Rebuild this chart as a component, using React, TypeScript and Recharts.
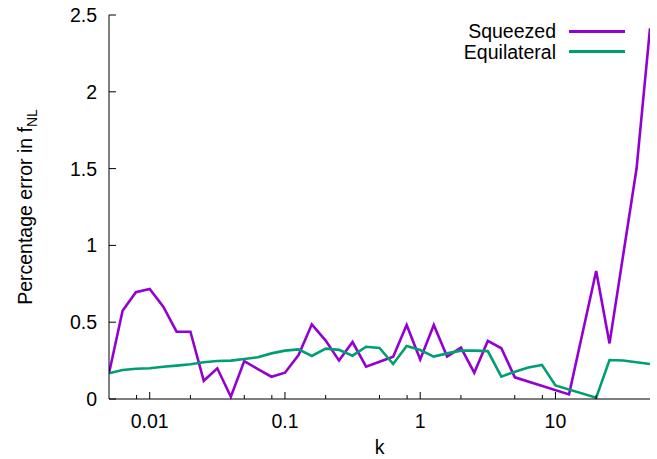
import { LineChart, Line, XAxis, YAxis, Legend } from "recharts";

// k values and percentage errors
const kSqueezed = [
  0.005, 0.0063, 0.0079, 0.01, 0.0126, 0.0158, 0.02, 0.0251, 0.0316, 0.0398,
  0.05, 0.0631, 0.0794, 0.1, 0.126, 0.158, 0.2, 0.251, 0.316, 0.398, 0.5,
  0.631, 0.794, 1, 1.26, 1.58, 2, 2.51, 3.16, 3.98, 5.01, 12.6, 20, 25.1,
  39.8, 50,
];
const squeezedError = [
  0.167, 0.575, 0.695, 0.716, 0.601, 0.438, 0.438, 0.119, 0.2, 0.015, 0.247,
  0.195, 0.145, 0.171, 0.286, 0.486, 0.38, 0.25, 0.371, 0.21, 0.243, 0.275,
  0.482, 0.258, 0.482, 0.276, 0.334, 0.171, 0.378, 0.33, 0.141, 0.03, 0.833,
  0.362, 1.502, 2.413,
];

const kEquilateral = [
  0.005, 0.0063, 0.0079, 0.01, 0.0126, 0.0158, 0.02, 0.0251, 0.0316, 0.0398,
  0.05, 0.0631, 0.0794, 0.1, 0.126, 0.158, 0.2, 0.251, 0.316, 0.398, 0.5,
  0.631, 0.794, 1, 1.26, 1.58, 2, 2.51, 3.16, 3.98, 5.01, 6.31, 7.94, 10, 20,
  25.1, 31.6, 50,
];
const equilateralError = [
  0.167, 0.189, 0.197, 0.2, 0.21, 0.217, 0.226, 0.239, 0.247, 0.25, 0.26,
  0.272, 0.297, 0.315, 0.323, 0.28, 0.328, 0.32, 0.282, 0.34, 0.332, 0.228,
  0.345, 0.319, 0.276, 0.297, 0.315, 0.315, 0.312, 0.145, 0.178, 0.205, 0.222,
  0.088, 0.008, 0.254, 0.251, 0.228,
];

const seriesNames = ["Squeezed", "Equilateral"];
const xMajorTicks = [0.01, 0.1, 1, 10];
const xMinorTicks = [0.008, 0.02, 0.05, 0.08, 0.2, 0.5, 0.8, 2, 5, 8, 20];
const yTicks = [0, 0.5, 1, 1.5, 2, 2.5];

const squeezedData = kSqueezed.map((k, i) => ({ k, err: squeezedError[i] }));
const equilateralData = kEquilateral.map((k, i) => ({ k, err: equilateralError[i] }));
const xTicks = [...xMajorTicks, ...xMinorTicks].sort((a, b) => a - b);

const FONT = '"Liberation Sans", Arial, Helvetica, sans-serif';
const FS = 19.5;
const PURPLE = "#9400D3";
const GREEN = "#009E73";

function BottomTick({ x, y, payload }: any) {
  const major = xMajorTicks.includes(payload.value);
  return (
    <g>
      <line x1={x} x2={x} y1={y} y2={y - (major ? 7 : 4)} stroke="#000" />
      {major && (
        <text x={x} y={y + 29} textAnchor="middle" fontFamily={FONT} fontSize={FS} fill="#000">
          {String(payload.value)}
        </text>
      )}
    </g>
  );
}

function TopTick({ x, y, payload }: any) {
  const major = xMajorTicks.includes(payload.value);
  return <line x1={x} x2={x} y1={y} y2={y + (major ? 7 : 4)} stroke="#000" />;
}

function LeftTick({ x, y, payload }: any) {
  return (
    <g>
      <line x1={x} x2={x + 7} y1={y} y2={y} stroke="#000" />
      <text x={x - 12} y={y + 7} textAnchor="end" fontFamily={FONT} fontSize={FS} fill="#000">
        {String(payload.value)}
      </text>
    </g>
  );
}

function RightTick({ x, y }: any) {
  return <line x1={x} x2={x - 7} y1={y} y2={y} stroke="#000" />;
}

function YTitle(props: any) {
  const vb = props.viewBox || { x: 0, y: 15, width: 109, height: 384 };
  const cx = vb.x + 32;
  const cy = vb.y + vb.height / 2;
  return (
    <text
      x={cx}
      y={cy}
      transform={`rotate(-90, ${cx}, ${cy})`}
      textAnchor="middle"
      fontFamily={FONT}
      fontSize={FS}
      fill="#000"
    >
      Percentage error in f
      <tspan dy={5} fontSize={14}>NL</tspan>
    </text>
  );
}

function XTitle(props: any) {
  const vb = props.viewBox || { x: 109, y: 399, width: 541, height: 60 };
  return (
    <text
      x={vb.x + vb.width / 2}
      y={vb.y + 55}
      textAnchor="middle"
      fontFamily={FONT}
      fontSize={FS}
      fill="#000"
    >
      k
    </text>
  );
}

function KeyBox({ payload }: any) {
  const items = [...(payload || [])].sort(
    (a: any, b: any) => seriesNames.indexOf(a.value) - seriesNames.indexOf(b.value)
  );
  return (
    <div style={{ fontFamily: FONT, fontSize: FS, color: "#000" }}>
      {items.map((item: any) => (
        <div
          key={item.value}
          style={{ display: "flex", alignItems: "center", justifyContent: "flex-end", height: 20.5 }}
        >
          <span style={{ lineHeight: "20.5px", whiteSpace: "nowrap" }}>{item.value}</span>
          <span
            style={{
              display: "inline-block",
              width: 56,
              height: 2.6,
              background: item.color,
              marginLeft: 13,
              marginRight: 5,
            }}
          />
        </div>
      ))}
    </div>
  );
}

export default function App() {
  return (
    <div style={{ position: "absolute", left: 0, top: 0, background: "#fff" }}>
      <LineChart width={657} height={459} margin={{ top: 15, right: 7, bottom: 0, left: 0 }}>
        <XAxis
          xAxisId="bottom"
          dataKey="k"
          type="number"
          scale="log"
          domain={[0.005, 50]}
          allowDataOverflow
          ticks={xTicks}
          interval={0}
          height={60}
          tickSize={0}
          tickMargin={0}
          tickLine={false}
          axisLine={{ stroke: "#000" }}
          tick={<BottomTick />}
          label={<XTitle />}
        />
        <XAxis
          xAxisId="top"
          orientation="top"
          dataKey="k"
          type="number"
          scale="log"
          domain={[0.005, 50]}
          allowDataOverflow
          ticks={xTicks}
          interval={0}
          height={0}
          tickSize={0}
          tickMargin={0}
          tickLine={false}
          axisLine={{ stroke: "#000" }}
          tick={<TopTick />}
        />
        <YAxis
          yAxisId="left"
          type="number"
          domain={[0, 2.5]}
          ticks={yTicks}
          interval={0}
          width={109}
          tickSize={0}
          tickMargin={0}
          tickLine={false}
          axisLine={{ stroke: "#000" }}
          tick={<LeftTick />}
          label={<YTitle />}
        />
        <YAxis
          yAxisId="right"
          orientation="right"
          type="number"
          domain={[0, 2.5]}
          ticks={yTicks}
          interval={0}
          width={0}
          tickSize={0}
          tickMargin={0}
          tickLine={false}
          axisLine={{ stroke: "#000" }}
          tick={<RightTick />}
        />
        <Legend
          layout="vertical"
          align="center"
          verticalAlign="middle"
          wrapperStyle={{ top: 21, left: 380, width: 250, height: 41 }}
          content={<KeyBox />}
        />
        <Line
          xAxisId="bottom"
          yAxisId="left"
          data={squeezedData}
          dataKey="err"
          name={seriesNames[0]}
          type="linear"
          stroke={PURPLE}
          strokeWidth={2.6}
          dot={false}
          isAnimationActive={false}
        />
        <Line
          xAxisId="bottom"
          yAxisId="left"
          data={equilateralData}
          dataKey="err"
          name={seriesNames[1]}
          type="linear"
          stroke={GREEN}
          strokeWidth={2.6}
          dot={false}
          isAnimationActive={false}
        />
      </LineChart>
    </div>
  );
}
